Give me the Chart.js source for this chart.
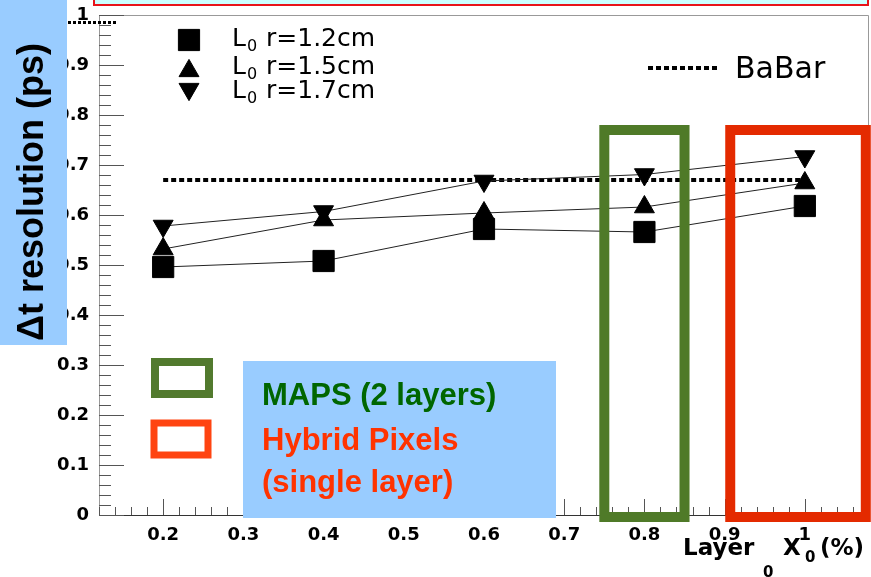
<!DOCTYPE html>
<html>
<head>
<meta charset="utf-8">
<script src="https://cdn.jsdelivr.net/npm/chart.js@4.4.1/dist/chart.umd.min.js"></script>
<style>
  html, body { margin: 0; padding: 0; background: #fff; }
  #wrap { width: 871px; height: 577px; }
</style>
</head>
<body>
<div id="wrap"><canvas id="chart" width="871" height="577"></canvas></div>
<script>
// values
const layerX0 = [0.2, 0.4, 0.6, 0.8, 1.0];
const resR12 = [0.496, 0.508, 0.572, 0.566, 0.618];
const resR15 = [0.532, 0.590, 0.604, 0.616, 0.664];
const resR17 = [0.578, 0.607, 0.668, 0.681, 0.717];
const babarX = [0.2, 1.0];
const babarRes = [0.67, 0.67];
const seriesLabels = ['r=1.2cm', 'r=1.5cm', 'r=1.7cm'];
const xTicks = [0.2, 0.3, 0.4, 0.5, 0.6, 0.7, 0.8, 0.9, 1.0];
const yTicks = [0, 0.1, 0.2, 0.3, 0.4, 0.5, 0.6, 0.7, 0.8, 0.9, 1.0];

const tickFont = { family: 'DejaVu Sans', weight: 'bold', size: 18 };
const fmt = v => String(+Number(v).toFixed(1));
const toXY = (xs, ys) => xs.map((v, i) => ({ x: v, y: ys[i] }));

function series(label, ys, style, rot, radius) {
  return {
    label,
    data: toXY(layerX0, ys),
    showLine: true,
    borderColor: '#222',
    borderWidth: 1,
    backgroundColor: '#000',
    pointStyle: style,
    pointRotation: rot,
    pointRadius: radius,
    pointBackgroundColor: '#000',
    pointBorderColor: '#000',
    pointBorderWidth: 1
  };
}

// keep the plot frame where the reference has it
function fixSize(s, prop, val) {
  s[prop] = val;
  s.paddingTop = s.paddingBottom = s.paddingLeft = s.paddingRight = 0;
}

// ROOT-like frame with inward ticks
const frame = {
  id: 'frame',
  beforeDatasetsDraw(chart) {
    const { ctx, chartArea: a, scales: { x, y } } = chart;
    ctx.save();
    ctx.lineWidth = 1;
    ctx.strokeStyle = '#999';
    ctx.beginPath();
    ctx.moveTo(a.left + 0.5, a.bottom);
    ctx.lineTo(a.left + 0.5, a.top + 0.5);
    ctx.lineTo(a.right - 0.5, a.top + 0.5);
    ctx.lineTo(a.right - 0.5, a.bottom);
    ctx.stroke();
    ctx.strokeStyle = '#333';
    ctx.beginPath();
    ctx.moveTo(a.left, a.bottom + 0.5);
    ctx.lineTo(a.right, a.bottom + 0.5);
    ctx.stroke();
    ctx.strokeStyle = '#555';
    for (let i = 0; i <= 50; i++) {
      const py = Math.round(y.getPixelForValue(i * 0.02)) + 0.5;
      const len = i % 5 === 0 ? 25 : 12;
      ctx.beginPath();
      ctx.moveTo(a.left, py);
      ctx.lineTo(a.left + len, py);
      ctx.stroke();
    }
    for (let i = 6; i <= 54; i++) {
      const px = Math.round(x.getPixelForValue(i * 0.02)) + 0.5;
      const len = i % 5 === 0 ? 16 : 8;
      ctx.beginPath();
      ctx.moveTo(px, a.bottom);
      ctx.lineTo(px, a.bottom - len);
      ctx.stroke();
    }
    ctx.restore();
  }
};

function strokeBox(ctx, x0, y0, x1, y1, color, w) {
  ctx.strokeStyle = color;
  ctx.lineWidth = w;
  ctx.strokeRect(x0, y0, x1 - x0, y1 - y0);
}

const overlay = {
  id: 'overlay',
  afterDraw(chart) {
    const { ctx, chartArea: a, scales: { x, y } } = chart;
    ctx.save();

    // highlight boxes around the 0.8 and 1.0 points
    const boxTop = y.getPixelForValue(0.77);
    const boxBot = a.bottom + 2;
    strokeBox(ctx, x.getPixelForValue(0.75), boxTop, x.getPixelForValue(0.85), boxBot, '#4f7a28', 10);
    strokeBox(ctx, x.getPixelForValue(0.907), boxTop, x.getPixelForValue(1.076), boxBot, '#e42a00', 10);

    // strip at the very top
    ctx.fillStyle = '#ccffff';
    ctx.fillRect(93, -4, 776, 9);
    strokeBox(ctx, 94, -4, 868, 5, '#e8141a', 2);

    // y title panel
    ctx.fillStyle = '#99ccff';
    ctx.fillRect(0, 0, 67, 345);
    ctx.save();
    ctx.translate(43, 192);
    ctx.rotate(-Math.PI / 2);
    ctx.fillStyle = '#000';
    ctx.font = 'bold 36px "Liberation Sans"';
    ctx.textAlign = 'center';
    ctx.textBaseline = 'alphabetic';
    ctx.fillText('\u0394t resolution (ps)', 0, 0);
    ctx.restore();

    // dotted leftover next to the "1" label
    ctx.strokeStyle = '#000';
    ctx.lineWidth = 3;
    ctx.setLineDash([3, 2]);
    ctx.beginPath();
    ctx.moveTo(68, 22.5);
    ctx.lineTo(118, 22.5);
    ctx.stroke();
    ctx.setLineDash([]);

    // detector legend panel
    ctx.fillStyle = '#99ccff';
    ctx.fillRect(243, 361, 313, 157);
    strokeBox(ctx, 155, 362, 209, 394, '#527a2e', 8);
    strokeBox(ctx, 154, 423, 208, 455, '#ff4411', 7);
    ctx.font = 'bold 31px "Liberation Sans"';
    ctx.textAlign = 'left';
    ctx.textBaseline = 'alphabetic';
    ctx.fillStyle = '#006600';
    ctx.fillText('MAPS (2 layers)', 262, 405);
    ctx.fillStyle = '#ff3300';
    ctx.fillText('Hybrid Pixels', 262, 450);
    ctx.fillText('(single layer)', 262, 492);

    // marker legend
    const ds = chart.data.datasets;
    const rows = [40, 68, 92];
    ctx.fillStyle = '#000';
    ctx.strokeStyle = '#000';
    for (let i = 0; i < 3; i++) {
      const d = ds[i];
      const r = d.pointRadius;
      let cy = rows[i];
      if (d.pointStyle === 'triangle') cy += (d.pointRotation ? -r / 4 : r / 4);
      ctx.lineWidth = 1;
      Chart.helpers.drawPoint(ctx, { pointStyle: d.pointStyle, rotation: d.pointRotation, radius: r, borderWidth: 1 }, 189, cy);
      const base = rows[i] + 6;
      ctx.fillStyle = '#000';
      ctx.font = '25px "DejaVu Sans"';
      ctx.fillText('L', 232, base);
      ctx.font = '16px "DejaVu Sans"';
      ctx.fillText('0', 247, base + 5);
      ctx.font = '25px "DejaVu Sans"';
      ctx.fillText(d.label, 266, base);
    }

    // BaBar legend
    ctx.strokeStyle = '#000';
    ctx.lineWidth = 4;
    ctx.setLineDash([5, 3]);
    ctx.beginPath();
    ctx.moveTo(648, 68);
    ctx.lineTo(720, 68);
    ctx.stroke();
    ctx.setLineDash([]);
    ctx.font = '30px "DejaVu Sans"';
    ctx.fillText('BaBar', 735, 78);

    // x title
    ctx.font = 'bold 23px "DejaVu Sans"';
    ctx.fillText('Layer', 683, 555);
    ctx.fillText('X', 783, 555);
    ctx.fillText('(%)', 820, 555);
    ctx.font = 'bold 15px "DejaVu Sans"';
    ctx.fillText('0', 763, 577);
    ctx.fillText('0', 805, 562);

    ctx.restore();
  }
};

new Chart(document.getElementById('chart'), {
  type: 'scatter',
  data: {
    datasets: [
      series(seriesLabels[0], resR12, 'rect', 0, 15),
      series(seriesLabels[1], resR15, 'triangle', 0, 11.5),
      series(seriesLabels[2], resR17, 'triangle', 180, 11.5),
      {
        label: 'BaBar',
        data: toXY(babarX, babarRes),
        showLine: true,
        borderColor: '#000',
        borderWidth: 4,
        borderDash: [5, 3],
        pointRadius: 0
      }
    ]
  },
  options: {
    responsive: false,
    devicePixelRatio: 1,
    animation: false,
    layout: { autoPadding: false, padding: { top: 15, right: 2, left: 0, bottom: 0 } },
    plugins: { legend: { display: false }, tooltip: { enabled: false } },
    scales: {
      x: {
        type: 'linear',
        min: 0.12,
        max: 1.08,
        afterBuildTicks: s => { s.ticks = xTicks.map(v => ({ value: v })); },
        afterFit: s => fixSize(s, 'height', 62),
        grid: { display: false, drawTicks: false },
        border: { display: false },
        ticks: { font: tickFont, color: '#000', padding: 10, maxRotation: 0, autoSkip: false, callback: v => fmt(v) }
      },
      y: {
        type: 'linear',
        min: 0,
        max: 1,
        afterBuildTicks: s => { s.ticks = yTicks.map(v => ({ value: v })); },
        afterFit: s => fixSize(s, 'width', 99),
        grid: { display: false, drawTicks: false },
        border: { display: false },
        ticks: { font: tickFont, color: '#000', padding: 10, autoSkip: false, callback: v => fmt(v) }
      }
    }
  },
  plugins: [frame, overlay]
});
</script>
</body>
</html>
